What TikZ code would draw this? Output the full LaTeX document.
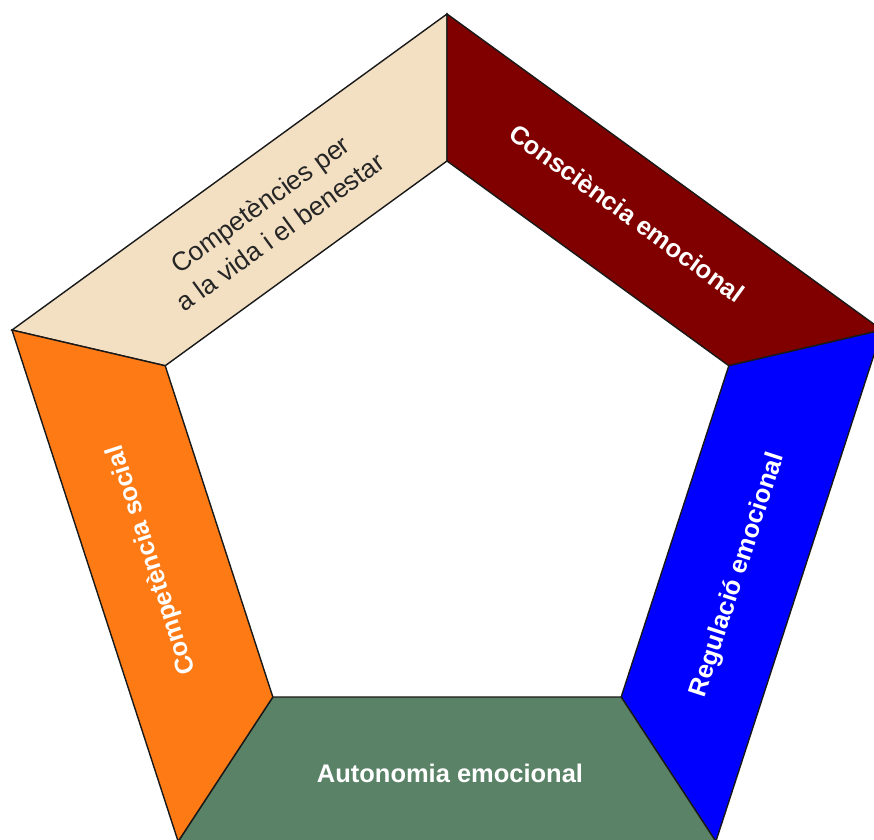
\documentclass[tikz,border=0pt]{standalone}
\usepackage{fontspec}
\setmainfont{Liberation Sans}
\usetikzlibrary{calc}
\definecolor{wheatbox}{RGB}{243,224,195}
\definecolor{redbox}{RGB}{128,0,0}
\definecolor{bluebox}{RGB}{0,0,255}
\definecolor{greenbox}{RGB}{90,130,102}
\definecolor{orangebox}{RGB}{253,122,21}
\tikzset{
  side/.style={draw=black!90, line width=0.8pt, line join=miter},
  lbl/.style={font=\fontsize{14.5}{17}\selectfont\bfseries, text=white},
  lbldark/.style={font=\fontsize{15}{19.5}\selectfont, text=black!85, align=center},
}

\begin{document}
\begin{tikzpicture}[x=0.02cm, y=0.02cm]
	%%%%% FRAME %%%%%
	\useasboundingbox (0,0) rectangle (874,839);
	\clip (0,0) rectangle (874,839);
	
	\coordinate (ci) at (447,381.7);
	\coordinate (co) at (447,367.6);
	\foreach \k/\a in {1/90,2/162,3/234,4/306,5/18}{
		\coordinate (i\k) at ($(ci)+(\a:296.3)$);
		\coordinate (o\k) at ($(co)+(\a:457.4)$);
	}
	
	%%%%% SIDES %%%%%
	\draw[side, fill=wheatbox] (o1) -- (o2) -- (i2) -- (i1) -- cycle;
	\draw[side, fill=redbox] (o1) -- (o5) -- (i5) -- (i1) -- cycle;
	\draw[side, fill=bluebox] (o5) -- (o4) -- (i4) -- (i5) -- cycle;
	\draw[side, fill=greenbox] (o4) -- (o3) -- (i3) -- (i4) -- cycle;
	\draw[side, fill=orangebox] (o3) -- (o2) -- (i2) -- (i3) -- cycle;
	
	%%%%% LABELS %%%%%
	\node[lbldark, rotate=36] (vida) at (270,621) {Competències per\\a la vida i el benestar};
	\node[lbl, rotate=-36] (consc) at (627,626) {Consciència emocional};
	\node[lbl, rotate=72] (regul) at (738,264) {Regulació emocional};
	\node[lbl] (auton) at (450,66) {Autonomia emocional};
	\node[lbl, rotate=108] (social) at (152,279) {Competència social};
\end{tikzpicture}
\end{document}
